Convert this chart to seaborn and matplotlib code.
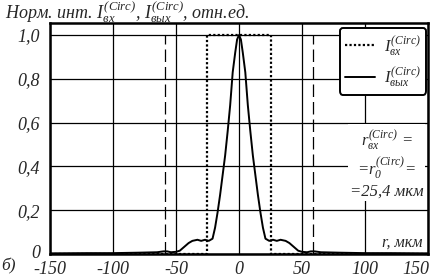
import numpy as np
import pandas as pd
import seaborn as sns
import matplotlib.pyplot as plt
from matplotlib.transforms import ScaledTranslation

# profile values
r_out = [-150, -120, -100, -80, -65, -60, -57, -54, -50, -47, -44, -40, -37, -33, -30, -27, -24,
         -21, -19, -17, -15, -13, -11, -9, -7, -5, -3, -1.5, 0, 1.5, 3, 5, 7, 9, 11, 13, 15, 17,
         19, 21, 24, 27, 30, 33, 37, 40, 44, 47, 50, 54, 57, 60, 65, 80, 100, 120, 150]
i_out = [0.003, 0.004, 0.004, 0.006, 0.008, 0.012, 0.012, 0.008, 0.01, 0.015, 0.03, 0.05, 0.06,
         0.065, 0.06, 0.065, 0.06, 0.07, 0.12, 0.19, 0.27, 0.36, 0.45, 0.56, 0.68, 0.83, 0.92,
         0.98, 1.0, 0.98, 0.92, 0.83, 0.68, 0.56, 0.45, 0.36, 0.27, 0.19, 0.12, 0.07, 0.06, 0.065,
         0.06, 0.065, 0.06, 0.05, 0.03, 0.015, 0.01, 0.008, 0.012, 0.012, 0.008, 0.006, 0.004,
         0.004, 0.003]

r_in = [-150, -25.4, -25.4, 25.4, 25.4, 150]
i_in = [0, 0, 1.0, 1.0, 0, 0]

dash_r = [-59, 59]
dash_top = 1.0

x_ticks = [-150, -100, -50, 0, 50, 100, 150]
y_ticks = [0, 0.2, 0.4, 0.6, 0.8, 1.0]
y_labels = ['0', '0,2', '0,4', '0,6', '0,8', '1,0']

sns.set_style('white')
plt.rcParams['font.family'] = ['Liberation Serif', 'DejaVu Serif']
plt.rcParams['font.style'] = 'italic'
plt.rcParams['axes.unicode_minus'] = False
plt.rcParams['mathtext.fontset'] = 'custom'
plt.rcParams['mathtext.it'] = 'Liberation Serif:italic'
plt.rcParams['mathtext.rm'] = 'Liberation Serif:italic'

fig = plt.figure(figsize=(4.33, 2.77), dpi=100)
ax = fig.add_axes([50 / 433, 23 / 277, 378 / 433, 231 / 277])

df_in = pd.DataFrame({'r': r_in, 'I': i_in})
df_out = pd.DataFrame({'r': r_out, 'I': i_out})

sns.lineplot(data=df_in, x='r', y='I', ax=ax, color='black', lw=1.6, estimator=None,
             linestyle=(0, (1, 1)), sort=False, label=r'$I_{вх}^{(Circ)}$', zorder=3)
sns.lineplot(data=df_out, x='r', y='I', ax=ax, color='black', lw=1.4, estimator=None,
             sort=False, label=r'$I_{вых}^{(Circ)}$', zorder=4)
ax.vlines(dash_r, 0, dash_top, colors='black', lw=0.9, linestyles=[(0, (10, 4))], zorder=2)

ax.set_xlim(-150, 150)
ax.set_ylim(0, 1.055)
ax.set_xticks(x_ticks)
ax.set_yticks(y_ticks)
ax.set_yticklabels(y_labels)
ax.tick_params(length=0, labelsize=13)
ax.tick_params(axis='y', pad=7)
ax.tick_params(axis='x', pad=5)
ax.grid(True, color='black', lw=0.9)
ax.set_axisbelow(True)
for s in ax.spines.values():
    s.set_linewidth(1.8)
    s.set_color('black')
ax.set_xlabel('')
ax.set_ylabel('')

# last x label sits inside the figure, as in the source
last = ax.get_xticklabels()[-1]
last.set_transform(last.get_transform() + ScaledTranslation(-0.12, 0, fig.dpi_scale_trans))
first_y = ax.get_yticklabels()[0]
first_y.set_transform(first_y.get_transform() + ScaledTranslation(0, 0.02, fig.dpi_scale_trans))

leg = ax.legend(loc='upper right', fontsize=12, handlelength=1.8, frameon=True,
                fancybox=True, borderpad=0.35, labelspacing=0.45, handletextpad=0.5,
                bbox_to_anchor=(1.0, 0.985), borderaxespad=0.1)
leg.get_frame().set_edgecolor('black')
leg.get_frame().set_linewidth(1.4)
leg.get_frame().set_alpha(1)

ax.text(0.89, 0.39, '$r_{вх}^{(Circ)}$ =\n=$r_0^{(Circ)}$=\n=25,4 мкм', transform=ax.transAxes,
        ha='center', va='center', fontsize=12, linespacing=1.2, zorder=5,
        bbox=dict(facecolor='white', edgecolor='none', pad=1))
ax.text(146, 0.015, 'r, мкм', ha='right', va='bottom', fontsize=11.5, zorder=5,
        bbox=dict(facecolor='white', edgecolor='none', pad=0.5))

fig.text(0.012, 0.933, 'Норм. инт. $I_{вх}^{(Circ)}$, $I_{вых}^{(Circ)}$, отн.ед.',
         ha='left', va='baseline', fontsize=13)
fig.text(0.002, 0.008, 'б)', ha='left', va='bottom', fontsize=12.5)

fig.savefig('out.png', dpi=100)
